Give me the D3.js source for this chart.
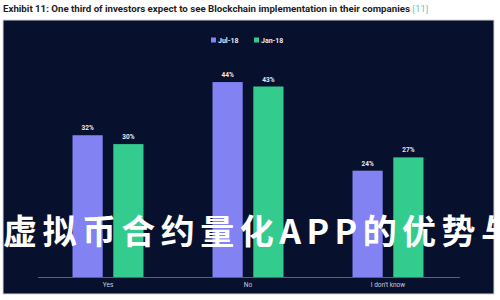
<!DOCTYPE html>
<html>
<head>
<meta charset="utf-8">
<script src="https://cdn.jsdelivr.net/npm/d3@7"></script>
<style>
  body { margin: 0; background: #fff; }
  svg { display: block; }
</style>
</head>
<body>
<script>
// data
const categories = ["Yes", "No", "I don't know"];
const series_names = ["Jul-18", "Jan-18"];
const jul18 = [32, 44, 24];
const jan18 = [30, 43, 27];
const series_colors = ["#8282f2", "#33cc8e"];

const v_width = 500, v_height = 300;

const svg = d3.select("body").append("svg")
    .attr("width", v_width)
    .attr("height", v_height);

// title
const title = svg.append("text")
    .attr("x", 3)
    .attr("y", 12)
    .attr("font-family", "Roboto, 'DejaVu Sans', sans-serif")
    .attr("font-size", 9.7)
    .attr("font-weight", "bold")
    .attr("fill", "#222");
title.append("tspan").text("Exhibit 11: One third of investors expect to see Blockchain implementation in their companies ");
title.append("tspan").attr("fill", "#6fc9c0").attr("font-weight", "normal").text("[11]");

// panel
svg.append("rect")
    .attr("x", 3).attr("y", 20)
    .attr("width", 491).attr("height", 274)
    .attr("fill", "#07112e")
    .attr("stroke", "#d8d8dc")
    .attr("stroke-width", 1);

// scales
const x0 = d3.scaleBand().domain(categories).range([38, 458]).paddingInner(0).paddingOuter(0);
const x1 = d3.scaleBand().domain(series_names).range([0, 71]).paddingInner(0.26);
const y = d3.scaleLinear().domain([0, 50]).range([277, 55.5]);

const data = categories.map((c, i) => ({cat: c, values: [jul18[i], jan18[i]]}));

const groups = svg.append("g").selectAll("g")
    .data(data).enter().append("g")
    .attr("transform", d => `translate(${x0(d.cat) + x0.bandwidth() / 2 - 35.5},0)`);

groups.selectAll("rect")
    .data(d => d.values.map((v, j) => ({name: series_names[j], value: v, j: j})))
    .enter().append("rect")
    .attr("x", d => x1(d.name))
    .attr("y", d => y(d.value))
    .attr("width", x1.bandwidth())
    .attr("height", d => y(0) - y(d.value))
    .attr("fill", d => series_colors[d.j]);

groups.selectAll("text")
    .data(d => d.values.map((v, j) => ({name: series_names[j], value: v})))
    .enter().append("text")
    .attr("x", d => x1(d.name) + x1.bandwidth() / 2)
    .attr("y", d => y(d.value) - 5)
    .attr("text-anchor", "middle")
    .attr("font-family", "Roboto, sans-serif")
    .attr("font-size", 6.5)
    .attr("font-weight", "bold")
    .attr("fill", "#e8e8f0")
    .text(d => d.value + "%");

// x axis
const x_axis = d3.axisBottom(x0).tickSize(0).tickPadding(5);
const gx = svg.append("g")
    .attr("transform", `translate(0,${y(0)})`)
    .call(x_axis);
gx.select(".domain").attr("stroke", "#5a6078").attr("d", "M38,0.5H460");
gx.selectAll("text")
    .attr("font-family", "Roboto, sans-serif")
    .attr("font-size", 6.5)
    .attr("fill", "#c8ccd8");

// legend
const legend = svg.append("g").attr("transform", "translate(211,40)");
const leg_x = [0, 43];
series_names.forEach((n, i) => {
    legend.append("rect")
        .attr("x", leg_x[i]).attr("y", -2.5)
        .attr("width", 5).attr("height", 5)
        .attr("fill", series_colors[i]);
    legend.append("text")
        .attr("x", leg_x[i] + 7).attr("y", 2.5)
        .attr("font-family", "Roboto, sans-serif")
        .attr("font-size", 7)
        .attr("font-weight", "bold")
        .attr("fill", "#e6e8f2")
        .text(n);
});

// watermark (runs off the right edge, as in the reference)
svg.append("text")
    .attr("x", 3)
    .attr("y", 244)
    .attr("font-family", "'Noto Sans CJK SC', sans-serif")
    .attr("font-size", 34)
    .attr("font-weight", "bold")
    .attr("fill", "#ffffff")
    .attr("textLength", 512)
    .attr("lengthAdjust", "spacing")
    .text("虚拟币合约量化APP的优势与");
</script>
</body>
</html>
